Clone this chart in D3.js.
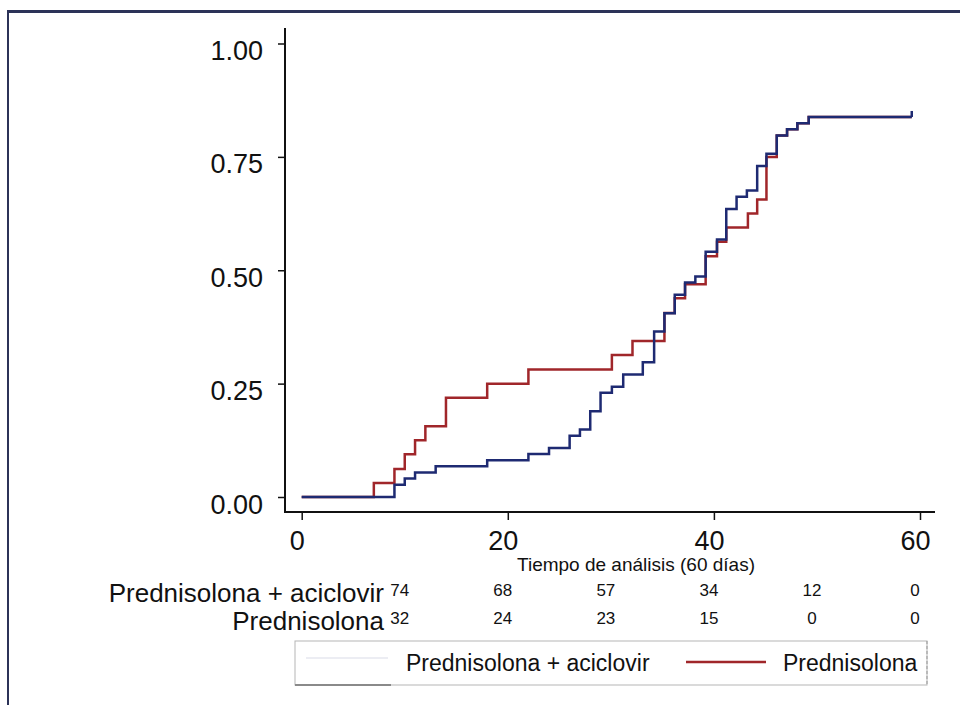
<!DOCTYPE html>
<html>
<head>
<meta charset="utf-8">
<script src="https://cdn.jsdelivr.net/npm/d3@7/dist/d3.min.js"></script>
<style>
	body { margin: 0; background: #fff; }
	text { font-family: "Liberation Sans", Arial, sans-serif; fill: #111; }
</style>
</head>
<body>
<script>
// data (cumulative incidence, step after each time)
var timesAciclovir = [0, 9, 10, 11, 13, 18, 22, 24, 26, 27, 28, 29, 30.1, 31.2, 33.1, 34.2, 35.2, 36.2, 37.2, 38.2, 39.2, 40.3, 41.2, 42.2, 43.2, 44.2, 45.1, 46.1, 47.1, 48.1, 49.2, 59.2];
var valuesAciclovir = [0, 0.027, 0.041, 0.054, 0.068, 0.081, 0.095, 0.108, 0.135, 0.149, 0.189, 0.230, 0.243, 0.270, 0.297, 0.365, 0.405, 0.446, 0.473, 0.486, 0.541, 0.568, 0.635, 0.662, 0.676, 0.730, 0.757, 0.797, 0.811, 0.824, 0.838, 0.838];

var timesPred = [0, 7, 9, 10, 11, 12, 14, 18, 22, 30.1, 32.1, 35.2, 36.2, 37.2, 39.2, 40.3, 41.2, 43.3, 44.2, 45.1, 46.1, 47.1, 48.1, 49.2, 59.2];
var valuesPred = [0, 0.031, 0.062, 0.094, 0.125, 0.156, 0.219, 0.250, 0.281, 0.313, 0.344, 0.406, 0.438, 0.469, 0.531, 0.563, 0.594, 0.625, 0.656, 0.750, 0.797, 0.811, 0.824, 0.838, 0.838];

var censorAciclovir = [59.2];

var xTicks = [0, 20, 40, 60];
var yTicks = [0, 0.25, 0.5, 0.75, 1];

var groupNames = ["Prednisolona + aciclovir", "Prednisolona"];
var riskTimes = [10, 20, 30, 40, 50, 60];
var riskAciclovir = [74, 68, 57, 34, 12, 0];
var riskPred = [32, 24, 23, 15, 0, 0];

var xTitle = "Tiempo de análisis (60 días)";

// dimensions
var width = 960,
	height = 705,
	axisX = 285,
	axisY = 512,
	blue = "#1e2a72",
	red = "#a0262a";

var svg = d3.select("body").append("svg")
	.attr("width", width)
	.attr("height", height);

var x = d3.scaleLinear().domain([0, 60]).range([301.7, 920]);
var y = d3.scaleLinear().domain([0, 1]).range([497, 43.5]);

function translate(a, b) {
	return "translate(" + a + "," + b + ")";
}

function toPoints(times, values) {
	return times.map(function (t, i) { return [t, values[i]]; });
}

// outer frame (left and top edges only)
svg.append("line")
	.attr("x1", 8).attr("y1", 11).attr("x2", 8).attr("y2", height)
	.style("stroke", "#2c3358").style("stroke-width", "2px");
svg.append("line")
	.attr("x1", 7).attr("y1", 11.5).attr("x2", width).attr("y2", 11.5)
	.style("stroke", "#2c3358").style("stroke-width", "3px");

// y axis
var yAxis = svg.append("g")
	.attr("transform", translate(axisX, 0))
	.call(d3.axisLeft(y).tickValues(yTicks).tickSize(7).tickPadding(15).tickFormat(d3.format(".2f")));
yAxis.select(".domain").remove();
yAxis.selectAll(".tick line").style("stroke", "#111").style("stroke-width", "1.5px");
yAxis.selectAll(".tick text")
	.attr("dy", 0)
	.attr("y", 16)
	.style("font-size", "27px")
	.style("font-family", "'Liberation Sans', Arial, sans-serif")
	.attr("fill", "#111");
svg.append("line")
	.attr("x1", axisX).attr("y1", 28).attr("x2", axisX).attr("y2", axisY + 1)
	.style("stroke", "#111").style("stroke-width", "2px");

// x axis
var xAxis = svg.append("g")
	.attr("transform", translate(0, axisY))
	.call(d3.axisBottom(x).tickValues(xTicks).tickSize(8).tickPadding(0).tickFormat(d3.format("d")));
xAxis.select(".domain").remove();
xAxis.selectAll(".tick line").style("stroke", "#111").style("stroke-width", "1.5px");
xAxis.selectAll(".tick text")
	.attr("dy", 0)
	.attr("y", 38)
	.attr("x", -5)
	.style("font-size", "27px")
	.style("font-family", "'Liberation Sans', Arial, sans-serif")
	.attr("fill", "#111");
svg.append("line")
	.attr("x1", axisX - 1).attr("y1", axisY).attr("x2", 935).attr("y2", axisY)
	.style("stroke", "#111").style("stroke-width", "2px");

svg.append("text")
	.text(xTitle)
	.attr("x", 636)
	.attr("y", 571)
	.attr("text-anchor", "middle")
	.style("font-size", "19px");

// curves
var line = d3.line()
	.x(function (d) { return x(d[0]); })
	.y(function (d) { return y(d[1]); })
	.curve(d3.curveStepAfter);

svg.append("path")
	.datum(toPoints(timesPred, valuesPred))
	.attr("d", line)
	.style("fill", "none")
	.style("stroke", red)
	.style("stroke-width", "2.5px");

svg.append("path")
	.datum(toPoints(timesAciclovir, valuesAciclovir))
	.attr("d", line)
	.style("fill", "none")
	.style("stroke", blue)
	.style("stroke-width", "2.5px");

// censor tick at end of follow-up
svg.selectAll("line.censor")
	.data(censorAciclovir)
	.enter()
	.append("line")
	.attr("class", "censor")
	.attr("x1", function (d) { return x(d); })
	.attr("x2", function (d) { return x(d); })
	.attr("y1", y(valuesAciclovir[valuesAciclovir.length - 1]))
	.attr("y2", y(valuesAciclovir[valuesAciclovir.length - 1]) - 6)
	.style("stroke", blue)
	.style("stroke-width", "2.5px");

// number at risk table
var riskRows = [riskAciclovir, riskPred];
var rowBase = [602, 630];

svg.selectAll("text.group")
	.data(groupNames)
	.enter()
	.append("text")
	.attr("class", "group")
	.text(function (d) { return d; })
	.attr("x", 384)
	.attr("y", function (d, i) { return rowBase[i]; })
	.attr("text-anchor", "end")
	.style("font-size", "26px");

riskRows.forEach(function (row, r) {
	svg.selectAll("text.risk" + r)
		.data(row)
		.enter()
		.append("text")
		.attr("class", "risk" + r)
		.text(function (d) { return d; })
		.attr("x", function (d, i) { return x(riskTimes[i]) - 5; })
		.attr("y", rowBase[r] - 6)
		.attr("text-anchor", "middle")
		.style("font-size", "17px");
});

// legend
var legend = svg.append("g").attr("transform", translate(295, 641));

legend.append("rect")
	.attr("width", 632)
	.attr("height", 44)
	.style("fill", "#fff")
	.style("stroke", "#b5b5b5")
	.style("stroke-width", "1px");
legend.append("line")
	.attr("x1", 632).attr("y1", 0).attr("x2", 632).attr("y2", 44)
	.style("stroke", "#999").style("stroke-dasharray", "3,2");
legend.append("line")
	.attr("x1", 0).attr("y1", 44).attr("x2", 96).attr("y2", 44)
	.style("stroke", "#8a8a8a").style("stroke-width", "2px");

legend.append("line")
	.attr("x1", 11).attr("y1", 17).attr("x2", 93).attr("y2", 17)
	.style("stroke", blue).style("stroke-width", "2px").style("opacity", 0.08);
legend.append("text")
	.text(groupNames[0])
	.attr("x", 111)
	.attr("y", 30)
	.style("font-size", "23px");

legend.append("line")
	.attr("x1", 391).attr("y1", 21).attr("x2", 471).attr("y2", 21)
	.style("stroke", red).style("stroke-width", "2.5px");
legend.append("text")
	.text(groupNames[1])
	.attr("x", 488)
	.attr("y", 30)
	.style("font-size", "23px");
</script>
</body>
</html>
